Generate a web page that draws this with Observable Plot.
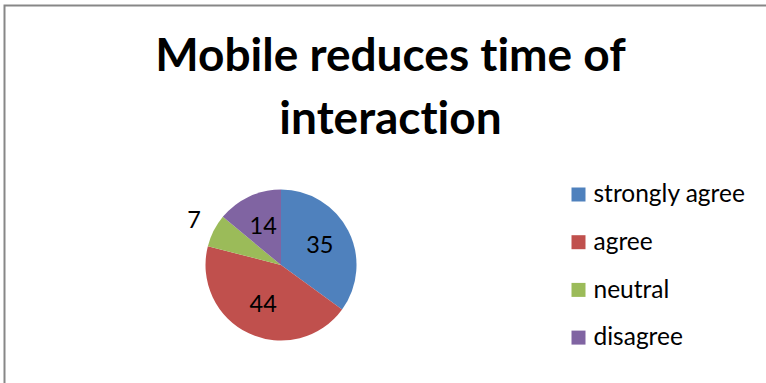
<!DOCTYPE html>
<html>
<head>
<meta charset="utf-8">
<script src="https://cdn.jsdelivr.net/npm/d3@7"></script>
<script src="https://cdn.jsdelivr.net/npm/@observablehq/plot@0.6"></script>
<style>
  html, body { margin: 0; padding: 0; background: #fff; overflow: hidden; }
  svg text { font-variant-ligatures: none; font-feature-settings: "liga" 0, "clig" 0; }
</style>
</head>
<body>
<div id="chart"></div>
<script>
// Survey answers for "Mobile reduces time of interaction"
const titleLines = ["Mobile reduces time of", "interaction"];
const categories = ["strongly agree", "agree", "neutral", "disagree"];
const values = [35, 44, 7, 14];
const colors = ["#4F81BD", "#C0504D", "#9BBB59", "#8064A2"];

const W = 766, H = 383;
const FONT = "Lato, 'Open Sans', sans-serif";

// pie placement (pixels) and radius
const cx = 281, cy = 265, R = 75.5;

const rows = categories.map((c, i) => ({category: c, value: values[i]}));
const slices = d3.pie().sort(null).value(d => d.value)(rows);

// label positions in radius units: inside for large slices, outside for thin ones
const labels = slices.map(s => {
  const mid = (s.startAngle + s.endAngle) / 2;
  const share = (s.endAngle - s.startAngle) / (2 * Math.PI);
  const k = share < 0.1 ? 1.3 : 0.57;
  return {value: s.data.value, x: Math.sin(mid) * k, y: Math.cos(mid) * k};
});

// wedges drawn through the plot's x/y/color scales
function pieWedges(index, scales) {
  const {x, y, color} = scales;
  const ox = x(0), oy = y(0), r = x(1) - x(0);
  const arc = d3.arc().innerRadius(0).outerRadius(r);
  const g = d3.create("svg:g").attr("transform", `translate(${ox},${oy})`);
  g.selectAll("path")
    .data(slices)
    .join("path")
    .attr("d", arc)
    .attr("fill", d => color(d.data.category));
  return g.node();
}

const legendX = 578, legendTop = 194, legendStep = 47.7;
const legendMarks = categories.flatMap((c, i) => [
  Plot.dot([c], {
    frameAnchor: "top-left", dx: legendX, dy: legendTop + i * legendStep,
    symbol: "square", r: 7.9, fill: d => d, stroke: null
  }),
  Plot.text([c], {
    frameAnchor: "top-left", dx: legendX + 15, dy: legendTop + i * legendStep,
    text: d => d, textAnchor: "start", lineAnchor: "middle",
    fontSize: 24.5, fontFamily: FONT, fill: "#000"
  })
]);

const chart = Plot.plot({
  width: W,
  height: H,
  margin: 0,
  style: {fontFamily: FONT, background: "#fff", overflow: "hidden"},
  x: {domain: [-1, 1], range: [cx - R, cx + R], axis: null},
  y: {domain: [-1, 1], range: [cy + R, cy - R], axis: null},
  color: {domain: categories, range: colors},
  marks: [
    Plot.frame({stroke: "#878787", strokeWidth: 2, insetLeft: 4, insetTop: 5, insetRight: -10, insetBottom: -10}),
    Plot.text([titleLines.join("\n")], {
      frameAnchor: "top", dx: 7, dy: 26, lineAnchor: "top",
      text: d => d, fontSize: 46, fontWeight: "bold", lineHeight: 63 / 46,
      fontFamily: FONT, fill: "#000"
    }),
    pieWedges,
    Plot.text(labels, {
      x: "x", y: "y", text: d => String(d.value),
      fontSize: 23.5, fontFamily: FONT, fill: "#000"
    }),
    ...legendMarks
  ]
});

document.getElementById("chart").append(chart);
</script>
</body>
</html>
